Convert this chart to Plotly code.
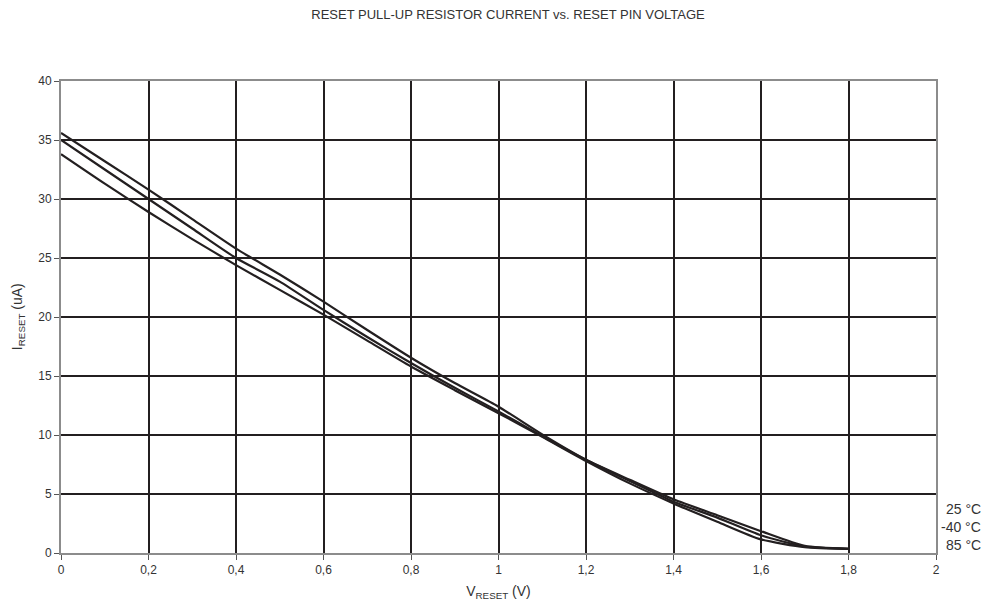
import plotly.graph_objects as go

v_reset = [0, 0.1, 0.2, 0.3, 0.4, 0.5, 0.6, 0.7, 0.8, 0.9, 1.0,
           1.1, 1.2, 1.3, 1.4, 1.5, 1.6, 1.7, 1.8]

i_minus40 = [35.6, 33.2, 30.8, 28.3, 25.8, 23.6, 21.3, 18.9, 16.55, 14.4, 12.4,
             10.05, 7.9, 6.1, 4.35, 3.0, 1.5, 0.55, 0.35]
i_25 = [35.0, 32.5, 30.0, 27.5, 25.0, 23.0, 20.6, 18.3, 16.1, 14.0, 12.0,
        9.9, 7.9, 6.2, 4.55, 3.2, 1.85, 0.6, 0.35]
i_85 = [33.8, 31.3, 28.9, 26.6, 24.4, 22.3, 20.2, 18.0, 15.8, 13.8, 11.85,
        9.85, 7.8, 5.9, 4.2, 2.65, 1.15, 0.5, 0.35]

x_ticks = [0, 0.2, 0.4, 0.6, 0.8, 1, 1.2, 1.4, 1.6, 1.8, 2]
x_tick_text = ["0", "0,2", "0,4", "0,6", "0,8", "1", "1,2", "1,4", "1,6", "1,8", "2"]

legend_labels = ["25 °C", "-40 °C", "85 °C"]
legend_y = [3.75, 2.2, 0.7]

FONT = "Arial, Liberation Sans, sans-serif"

fig = go.Figure()
for name, ys in [("-40 °C", i_minus40), ("25 °C", i_25), ("85 °C", i_85)]:
    fig.add_trace(go.Scatter(
        x=v_reset, y=ys, mode="lines", name=name,
        line={"color": "#231f20", "width": 2.2, "shape": "spline", "smoothing": 0.6},
    ))

for label, y in zip(legend_labels, legend_y):
    fig.add_annotation(
        x=1.0535, y=y, xref="paper", yref="y", text=label, showarrow=False,
        xanchor="right", yanchor="middle",
        font={"family": FONT, "size": 14, "color": "#333"},
    )

# y-axis title as an annotation so it can sit further left than the axis title allows
fig.add_annotation(
    x=-0.049, y=0.5, xref="paper", yref="paper", text="I<sub>RESET</sub> (uA)",
    showarrow=False, textangle=-90, xanchor="center", yanchor="middle",
    font={"family": FONT, "size": 14, "color": "#333"},
)

axis_common = dict(
    showline=True, linecolor="#8c8c8c", linewidth=2, mirror=True,
    showgrid=True, gridcolor="#231f20", gridwidth=2,
    ticks="outside", ticklen=5, tickcolor="#555", tickwidth=1,
    zeroline=False, automargin=False,
    tickfont={"family": FONT, "size": 12, "color": "#333"},
)

# page body has an 8px margin, so margins are shifted to land the plot where the reference has it
fig.update_layout(
    width=1000, height=611,
    paper_bgcolor="white", plot_bgcolor="white",
    margin={"l": 53, "r": 72, "t": 73, "b": 66},
    showlegend=False,
    title={
        "text": "RESET PULL-UP RESISTOR CURRENT vs. RESET PIN VOLTAGE",
        "x": 0.5, "xanchor": "center", "y": 0.99, "yanchor": "middle",
        "font": {"family": FONT, "size": 13, "color": "#333"},
    },
    xaxis=dict(
        axis_common, range=[0, 2], tickvals=x_ticks, ticktext=x_tick_text,
        title={"text": "V<sub>RESET</sub> (V)", "standoff": 10,
               "font": {"family": FONT, "size": 14, "color": "#333"}},
    ),
    yaxis=dict(axis_common, range=[0, 40], dtick=5),
)

fig.write_html("out.html")
